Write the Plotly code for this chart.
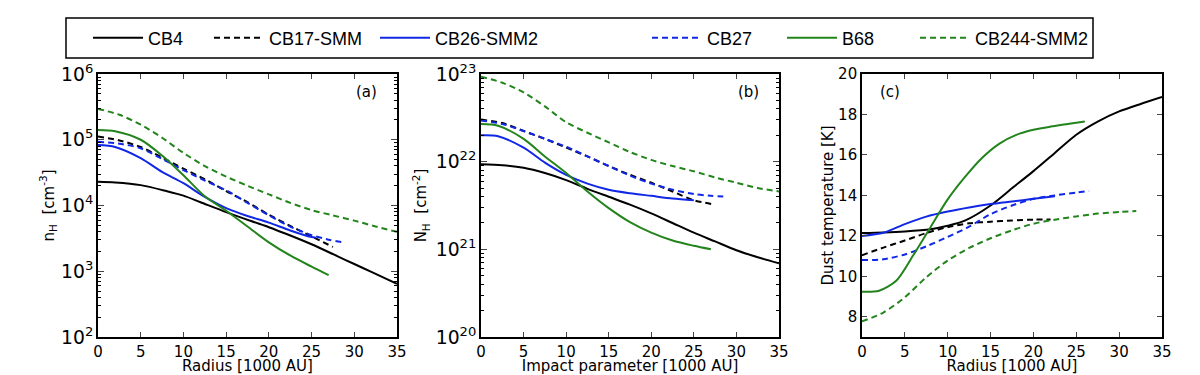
import plotly.graph_objects as go

# ---------------- data ----------------
names = ["CB4", "CB17-SMM", "CB26-SMM2", "CB27", "B68", "CB244-SMM2"]

# Panel (a): log10 n_H [cm^-3] vs radius [1000 AU]
a_cb4_x = [0, 2, 5, 8, 10, 12, 15, 18, 20, 22, 25, 28, 30, 32, 35]
a_cb4_y = [4.36, 4.35, 4.31, 4.22, 4.15, 4.05, 3.90, 3.76, 3.67, 3.57, 3.41, 3.23, 3.11, 2.99, 2.81]
a_cb17_x = [0, 2.5, 5, 7.5, 10, 12.5, 15, 17.5, 20, 22.5, 25, 27.5]
a_cb17_y = [5.05, 4.99, 4.89, 4.73, 4.56, 4.40, 4.22, 4.05, 3.86, 3.69, 3.53, 3.37]
a_cb26_x = [0, 2, 5, 7.5, 10, 12.5, 15, 17.5, 20, 22.5, 25, 25.5]
a_cb26_y = [4.92, 4.89, 4.72, 4.51, 4.34, 4.13, 3.96, 3.84, 3.74, 3.62, 3.52, 3.51]
a_cb27_x = [0, 2.5, 5, 7.5, 10, 12.5, 15, 17.5, 20, 22.5, 25, 27, 28.8]
a_cb27_y = [4.97, 4.94, 4.87, 4.71, 4.54, 4.38, 4.23, 4.04, 3.85, 3.68, 3.55, 3.48, 3.44]
a_b68_x = [0, 2, 5, 7.5, 10, 12.5, 15, 17.5, 20, 22.5, 25, 27]
a_b68_y = [5.15, 5.13, 5.00, 4.76, 4.46, 4.14, 3.92, 3.68, 3.44, 3.24, 3.07, 2.94]
a_cb244_x = [0, 2.5, 5, 7.5, 10, 12.5, 15, 17.5, 20, 22.5, 25, 27.5, 30, 32.5, 35]
a_cb244_y = [5.47, 5.38, 5.23, 5.03, 4.80, 4.60, 4.44, 4.30, 4.17, 4.04, 3.93, 3.85, 3.77, 3.68, 3.60]

# Panel (b): log10 N_H [cm^-2] vs impact parameter [1000 AU]
b_cb4_x = [0, 2.5, 5, 7.5, 10, 12.5, 15, 17.5, 20, 22.5, 25, 27.5, 30, 32.5, 35]
b_cb4_y = [21.97, 21.96, 21.93, 21.87, 21.79, 21.69, 21.60, 21.51, 21.41, 21.30, 21.19, 21.09, 20.99, 20.91, 20.84]
b_cb17_x = [0, 2.5, 5, 7.5, 10, 12.5, 15, 17.5, 20, 22.5, 25, 27.5]
b_cb17_y = [22.48, 22.44, 22.35, 22.26, 22.16, 22.06, 21.95, 21.85, 21.76, 21.66, 21.56, 21.51]
b_cb26_x = [0, 2, 5, 7.5, 10, 12.5, 15, 17.5, 20, 22.5, 25]
b_cb26_y = [22.30, 22.29, 22.16, 21.99, 21.85, 21.75, 21.68, 21.64, 21.61, 21.58, 21.56]
b_cb27_x = [0, 2.5, 5, 7.5, 10, 12.5, 15, 17.5, 20, 22.5, 25, 27, 28.9]
b_cb27_y = [22.47, 22.43, 22.35, 22.26, 22.17, 22.06, 21.95, 21.84, 21.75, 21.68, 21.63, 21.61, 21.60]
b_b68_x = [0, 2, 5, 7.5, 10, 12.5, 15, 17.5, 20, 22.5, 25, 27]
b_b68_y = [22.43, 22.41, 22.26, 22.06, 21.87, 21.66, 21.47, 21.31, 21.19, 21.10, 21.04, 21.00]
b_cb244_x = [0, 2.5, 5, 7.5, 10, 12.5, 15, 17.5, 20, 22.5, 25, 27.5, 30, 32.5, 35]
b_cb244_y = [22.97, 22.90, 22.79, 22.63, 22.45, 22.33, 22.22, 22.11, 22.02, 21.95, 21.89, 21.82, 21.76, 21.70, 21.66]

# Panel (c): dust temperature [K] vs radius [1000 AU]
c_cb4_x = [0, 2.5, 5, 8, 10, 12, 15, 17.5, 20, 22.5, 25, 27.5, 30, 32.5, 35]
c_cb4_y = [12.14, 12.17, 12.22, 12.33, 12.50, 12.75, 13.50, 14.35, 15.20, 16.10, 17.00, 17.65, 18.15, 18.52, 18.86]
c_cb17_x = [0, 2.5, 5, 7.5, 10, 12.5, 15, 17.5, 20, 22]
c_cb17_y = [11.04, 11.42, 11.77, 12.14, 12.43, 12.62, 12.70, 12.76, 12.80, 12.81]
c_cb26_x = [0, 2.5, 5, 7.5, 10, 12.5, 15, 17.5, 20, 22.5]
c_cb26_y = [11.99, 12.15, 12.58, 12.95, 13.20, 13.40, 13.57, 13.70, 13.83, 13.96]
c_cb27_x = [0, 2.5, 5, 7.5, 10, 12.5, 15, 17.5, 20, 22.5, 25, 26.5]
c_cb27_y = [10.80, 10.84, 11.08, 11.48, 11.95, 12.45, 13.07, 13.50, 13.83, 14.00, 14.14, 14.22]
c_b68_x = [0, 2, 4, 6, 8, 10, 12, 14, 16, 18, 20, 22, 24, 26]
c_b68_y = [9.24, 9.29, 9.78, 11.05, 12.43, 13.80, 14.90, 15.85, 16.55, 16.99, 17.24, 17.40, 17.53, 17.65]
c_cb244_x = [0, 2.5, 5, 7.5, 10, 12.5, 15, 17.5, 20, 22.5, 25, 27.5, 30, 32]
c_cb244_y = [7.77, 8.21, 8.96, 9.95, 10.78, 11.40, 11.88, 12.27, 12.60, 12.80, 12.96, 13.10, 13.18, 13.23]

x_ticks = [0, 5, 10, 15, 20, 25, 30, 35]
c_y_ticks = [8, 10, 12, 14, 16, 18, 20]

# ---------------- styling ----------------
BLACK = "#000000"
BLUE = "#1028e6"
GREEN = "#23841c"
DASH = "6px,4px"
styles = [
    (BLACK, "solid"), (BLACK, DASH), (BLUE, "solid"),
    (BLUE, DASH), (GREEN, "solid"), (GREEN, DASH),
]
legend_widths = [56, 101, 207, 70, 68, 120]

panel_a = [(a_cb4_x, a_cb4_y), (a_cb17_x, a_cb17_y), (a_cb26_x, a_cb26_y),
           (a_cb27_x, a_cb27_y), (a_b68_x, a_b68_y), (a_cb244_x, a_cb244_y)]
panel_b = [(b_cb4_x, b_cb4_y), (b_cb17_x, b_cb17_y), (b_cb26_x, b_cb26_y),
           (b_cb27_x, b_cb27_y), (b_b68_x, b_b68_y), (b_cb244_x, b_cb244_y)]
panel_c = [(c_cb4_x, c_cb4_y), (c_cb17_x, c_cb17_y), (c_cb26_x, c_cb26_y),
           (c_cb27_x, c_cb27_y), (c_b68_x, c_b68_y), (c_cb244_x, c_cb244_y)]

fig = go.Figure()

def add_panel(data, xa, ya, is_log, show_legend):
    for name, (xs, ys), (col, dash), lw in zip(names, data, styles, legend_widths):
        yv = [10 ** v for v in ys] if is_log else ys
        fig.add_trace(go.Scatter(
            x=xs, y=yv, mode="lines", name=name, legendgroup=name,
            showlegend=show_legend, legendwidth=lw,
            line=dict(color=col, width=2, dash=dash, shape="spline", smoothing=0.8),
            xaxis=xa, yaxis=ya))

add_panel(panel_a, "x", "y", True, True)
add_panel(panel_b, "x2", "y2", True, False)
add_panel(panel_c, "x3", "y3", False, False)

# the page body adds an 8px offset, so the figure is 1192x367 and laid out with that shift
W, H = 1192, 367
ML, MT, MR, MB = 90, 66, 38, 38
PW, PH = W - ML - MR, H - MT - MB

TICKFONT = dict(family="DejaVu Sans", size=15, color="black")
TITLEFONT = dict(family="DejaVu Sans", size=15, color="black")
common_x = dict(range=[0, 35], tickvals=x_ticks, ticks="inside", ticklen=5, tickwidth=1,
                showline=True, linecolor="black", linewidth=1.5, mirror="allticks",
                showgrid=False, zeroline=False, tickfont=TICKFONT,
                title_font=TITLEFONT, title_standoff=5)
common_y_log = dict(type="log", dtick=1, ticks="inside", ticklen=6, tickwidth=1,
                    exponentformat="power", showexponent="all",
                    minor=dict(ticks="inside", ticklen=3, dtick="D1", tickcolor="black", showgrid=False),
                    showline=True, linecolor="black", linewidth=1.5, mirror="allticks",
                    showgrid=False, zeroline=False, tickfont=TICKFONT,
                    title_font=TITLEFONT)

fig.update_layout(
    width=W, height=H,
    margin=dict(l=ML, r=MR, t=MT, b=MB, autoexpand=False),
    paper_bgcolor="white", plot_bgcolor="white",
    font=dict(family="DejaVu Sans", color="black"),
    xaxis=dict(domain=[0, 0.281], anchor="y", title_text="Radius [1000 AU]", **common_x),
    yaxis=dict(domain=[0, 1], anchor="x", range=[2, 6], title_standoff=3,
               title_text="n<sub>H</sub>  [cm<sup>-3</sup>]", **common_y_log),
    xaxis2=dict(domain=[0.36, 0.640], anchor="y2", title_text="Impact parameter [1000 AU]", **common_x),
    yaxis2=dict(domain=[0, 1], anchor="x2", range=[20, 23], title_standoff=5,
                title_text="N<sub>H</sub>  [cm<sup>-2</sup>]", **common_y_log),
    xaxis3=dict(domain=[0.718, 1.0], anchor="y3", title_text="Radius [1000 AU]", **common_x),
    yaxis3=dict(domain=[0, 1], anchor="x3", range=[7, 20], tickvals=c_y_ticks,
                ticks="inside", ticklen=5, tickwidth=1,
                showline=True, linecolor="black", linewidth=1.5, mirror="allticks",
                showgrid=False, zeroline=False, tickfont=TICKFONT,
                title_text="Dust temperature [K]", title_font=TITLEFONT, title_standoff=1),
    legend=dict(orientation="h", xref="container", yref="container",
                x=80 / W, xanchor="left", y=1 - 30 / H, yanchor="middle",
                borderwidth=0, bgcolor="rgba(0,0,0,0)",
                font=dict(family="Liberation Sans", size=18, color="black"),
                itemwidth=50, tracegroupgap=0),
    shapes=[dict(type="rect", xref="paper", yref="paper",
                 x0=(58 - ML) / PW, x1=(1085 - ML) / PW,
                 y0=(MT + PH - 50) / PH, y1=(MT + PH - 10) / PH,
                 line=dict(color="black", width=1.5), fillcolor="rgba(0,0,0,0)", layer="above")],
    annotations=[
        dict(text="(a)", xref="x domain", yref="y domain", x=0.94, y=0.93, showarrow=False,
             xanchor="right", yanchor="middle", font=TITLEFONT),
        dict(text="(b)", xref="x2 domain", yref="y2 domain", x=0.94, y=0.93, showarrow=False,
             xanchor="right", yanchor="middle", font=TITLEFONT),
        dict(text="(c)", xref="x3 domain", yref="y3 domain", x=0.055, y=0.93, showarrow=False,
             xanchor="left", yanchor="middle", font=TITLEFONT),
    ],
)

fig.write_html("out.html")
